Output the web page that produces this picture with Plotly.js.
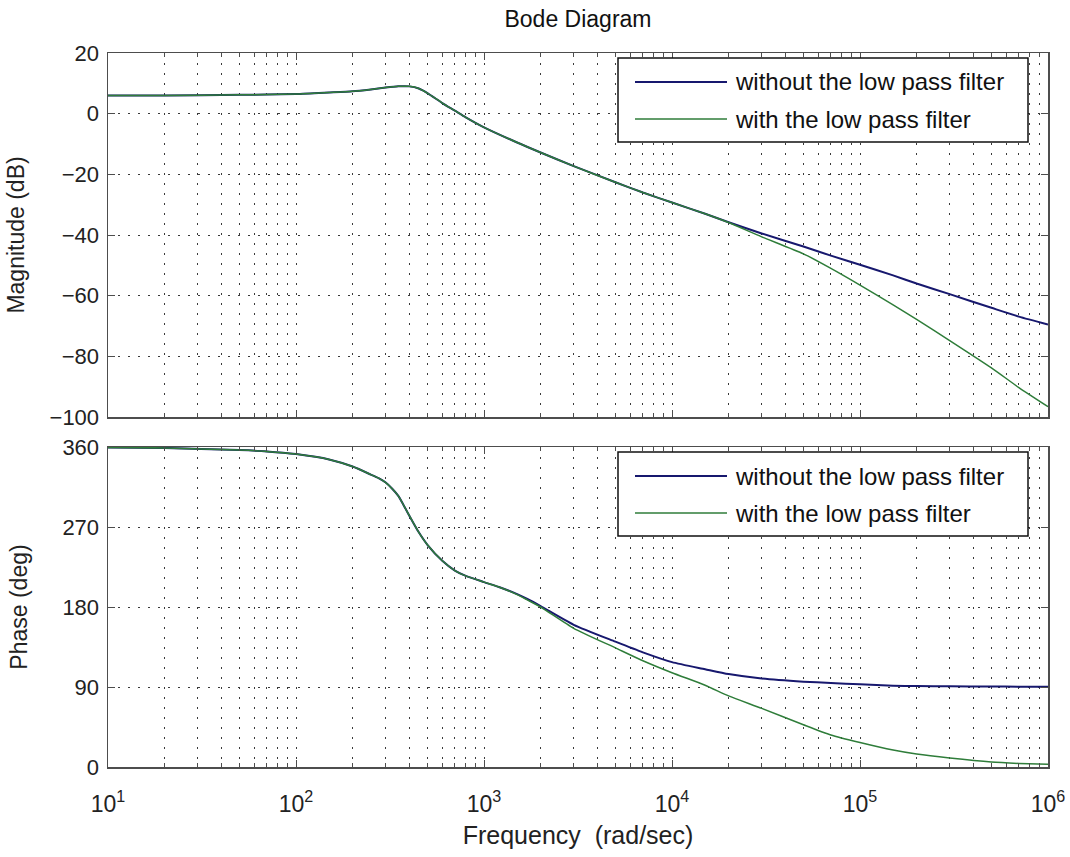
<!DOCTYPE html>
<html>
<head>
<meta charset="utf-8">
<script src="https://cdn.plot.ly/plotly-3.0.1.min.js"></script>
<style>html,body{margin:0;padding:0;background:#fff;}#chart{width:1070px;height:857px;}</style>
</head>
<body>
<div id="chart"></div>
<script>
// ---- data ----
const freqMag = [10, 20, 50, 100, 150, 200, 250, 300, 350, 400, 450, 500, 600, 700, 800, 1000, 1500, 2000, 3000, 5000, 7000, 1e4, 1.5e4, 2e4, 3e4, 5e4, 7e4, 1e5, 1.5e5, 2e5, 3e5, 5e5, 7e5, 1e6];
const magWithout = [6, 6, 6.2, 6.5, 7, 7.4, 8, 8.6, 9, 9, 8.3, 6.8, 3.5, 1, -1.2, -4.5, -9.5, -12.8, -17.3, -22.6, -26, -29.3, -33, -35.8, -39.5, -43.8, -46.8, -49.8, -53.3, -56, -59.5, -64, -66.9, -69.5];
const magWith = [6, 6, 6.2, 6.5, 7, 7.4, 8, 8.6, 9, 9, 8.3, 6.8, 3.5, 1, -1.2, -4.5, -9.5, -12.8, -17.3, -22.6, -26, -29.3, -33, -35.9, -40.6, -46.2, -51, -56.5, -63, -67.8, -74.8, -83.8, -90.3, -96.6];

const freqPh = [10, 20, 50, 70, 100, 150, 200, 250, 275, 300, 325, 350, 375, 400, 450, 500, 600, 700, 800, 1000, 1200, 1500, 1700, 2000, 3000, 5000, 7000, 1e4, 1.5e4, 2e4, 3e4, 5e4, 7e4, 1e5, 1.5e5, 2e5, 3e5, 5e5, 7e5, 1e6];
const phaseWithout = [359.5, 359, 356.5, 355, 352, 346, 338, 329, 325, 320, 313, 305, 294, 283, 264, 250, 232, 221, 215, 208, 202.5, 194.5, 189, 181, 160, 141, 129, 118, 110, 104.5, 99.5, 96, 94.5, 93, 91.5, 91, 90.8, 90.5, 90.4, 90.3];
const phaseWith = [359.5, 359, 356.5, 355, 352, 346, 338, 329, 325, 320, 313, 305, 294, 283, 264, 250, 232, 221, 215, 208, 202.5, 194, 188, 180, 156, 134, 119.5, 106, 92, 80, 66, 47.5, 36, 27.5, 19, 14.5, 10, 5.5, 4, 3];

const seriesNames = ["without the low pass filter", "with the low pass filter"];
const xTickVals = [10, 100, 1000, 10000, 100000, 1000000];
const xTickText = ["10<sup>1</sup>", "10<sup>2</sup>", "10<sup>3</sup>", "10<sup>4</sup>", "10<sup>5</sup>", "10<sup>6</sup>"];
const magTicks = [20, 0, -20, -40, -60, -80, -100];
const phaseTicks = [0, 90, 180, 270, 360];

// ---- styling ----
const FONT = "Liberation Sans, Arial, Helvetica, sans-serif";
const BLUE = "#17186e";
const GREEN = "#2f7d3a";
const W = 1070, H = 857;
const L = 108, R = 22, T = 53, B = 90;
const pw = W - L - R, ph = H - T - B;
const px2x = p => (p - L) / pw;
const py2y = p => (H - B - p) / ph;

const traces = [
  {x: freqMag, y: magWithout, xaxis: "x2", yaxis: "y2", mode: "lines", name: seriesNames[0], line: {color: BLUE, width: 2, shape: "spline", smoothing: 0.6}, showlegend: false},
  {x: freqMag, y: magWith, xaxis: "x2", yaxis: "y2", mode: "lines", name: seriesNames[1], line: {color: GREEN, width: 1.5, shape: "spline", smoothing: 0.6}, showlegend: false},
  {x: freqPh, y: phaseWithout, xaxis: "x", yaxis: "y", mode: "lines", name: seriesNames[0], line: {color: BLUE, width: 2, shape: "spline", smoothing: 0.6}, showlegend: false},
  {x: freqPh, y: phaseWith, xaxis: "x", yaxis: "y", mode: "lines", name: seriesNames[1], line: {color: GREEN, width: 1.5, shape: "spline", smoothing: 0.6}, showlegend: false}
];

const gridDash = "2px,8px";
const gridCol = "#3a3a3a";
const axisCommon = {
  showline: true, linecolor: "#4d4d4d", linewidth: 1.5, mirror: "allticks",
  ticks: "inside", ticklen: 7, tickcolor: "#4d4d4d", tickwidth: 1,
  showgrid: true, gridcolor: gridCol, griddash: gridDash, gridwidth: 1,
  zeroline: false, tickfont: {family: FONT, size: 22, color: "#222"}, ticklabelstandoff: 3
};
const xCommon = Object.assign({}, axisCommon, {
  type: "log", range: [1, 6], tickmode: "array", tickvals: xTickVals, ticktext: xTickText,
  tickfont: {family: FONT, size: 23, color: "#222"}, ticklabelstandoff: 16,
  minor: {dtick: "D1", showgrid: true, gridcolor: gridCol, griddash: gridDash, gridwidth: 1, ticks: "inside", ticklen: 4, tickcolor: "#4d4d4d"}
});

// legend boxes drawn in paper space
function legendShapes(topPx) {
  const x0 = 618, x1 = 1028;
  const r1 = topPx + 24, r2 = topPx + 61;
  return [
    {type: "rect", xref: "paper", yref: "paper", x0: px2x(x0), x1: px2x(x1), y0: py2y(topPx), y1: py2y(topPx + 84), line: {color: "#111", width: 1.5}, fillcolor: "#fff", layer: "above"},
    {type: "line", xref: "paper", yref: "paper", x0: px2x(635), x1: px2x(727), y0: py2y(r1), y1: py2y(r1), line: {color: BLUE, width: 2}},
    {type: "line", xref: "paper", yref: "paper", x0: px2x(635), x1: px2x(727), y0: py2y(r2), y1: py2y(r2), line: {color: GREEN, width: 1.5}}
  ];
}
function legendTexts(topPx) {
  const r1 = topPx + 24, r2 = topPx + 61;
  return [
    {xref: "paper", yref: "paper", x: px2x(733), y: py2y(r1), xanchor: "left", yanchor: "middle", showarrow: false, text: seriesNames[0], font: {family: FONT, size: 24, color: "#111"}},
    {xref: "paper", yref: "paper", x: px2x(733), y: py2y(r2), xanchor: "left", yanchor: "middle", showarrow: false, text: seriesNames[1], font: {family: FONT, size: 24, color: "#111"}}
  ];
}

const layout = {
  width: W, height: H,
  paper_bgcolor: "#fff", plot_bgcolor: "#fff",
  margin: {l: L, r: R, t: T, b: B},
  showlegend: false,
  title: {text: "Bode Diagram", font: {family: FONT, size: 23, color: "#111"}, x: 0.5, xref: "paper", xanchor: "center", y: 1 - 19 / H, yanchor: "middle"},
  xaxis: Object.assign({}, xCommon, {anchor: "y", domain: [0, 1],
    title: {text: "Frequency  (rad/sec)", font: {family: FONT, size: 25, color: "#222"}, standoff: 10}}),
  yaxis: Object.assign({}, axisCommon, {anchor: "x", domain: [0, 320 / ph], range: [0, 360], tickmode: "array", tickvals: phaseTicks,
    title: {text: "Phase (deg)", font: {family: FONT, size: 23, color: "#222"}, standoff: 28}}),
  xaxis2: Object.assign({}, xCommon, {anchor: "y2", domain: [0, 1], matches: "x", showticklabels: false}),
  yaxis2: Object.assign({}, axisCommon, {anchor: "x2", domain: [(H - B - 417) / ph, 1], range: [-100, 20], tickmode: "array", tickvals: magTicks,
    title: {text: "Magnitude (dB)", font: {family: FONT, size: 23, color: "#222"}, standoff: 18}}),
  shapes: legendShapes(58).concat(legendShapes(452)),
  annotations: legendTexts(58).concat(legendTexts(452))
};

Plotly.newPlot("chart", traces, layout, {displayModeBar: false, staticPlot: true});
</script>
</body>
</html>
